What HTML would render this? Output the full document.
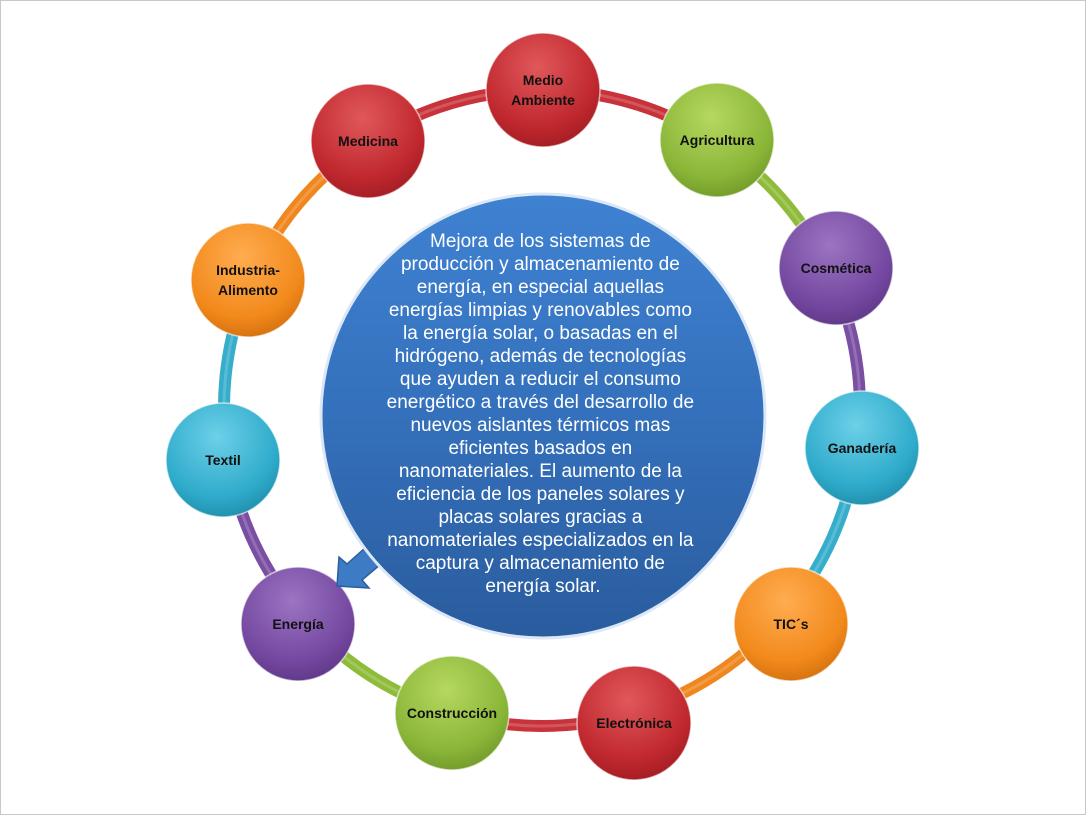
<!DOCTYPE html>
<html><head><meta charset="utf-8"><style>
html,body{margin:0;padding:0;background:#fff}
body{width:1086px;height:815px;overflow:hidden;position:relative}
svg{position:absolute;left:0;top:0}
</style></head><body>
<svg id="s" width="1086" height="815" viewBox="0 0 1086 815" xmlns="http://www.w3.org/2000/svg">
<defs>
<radialGradient id="gred" cx="45%" cy="30%" r="75%"><stop offset="0" stop-color="#e0585a"/><stop offset="0.7" stop-color="#c0282e"/><stop offset="1" stop-color="#9e1c22"/></radialGradient>
<radialGradient id="ggreen" cx="45%" cy="30%" r="75%"><stop offset="0" stop-color="#b6d860"/><stop offset="0.7" stop-color="#8ab638"/><stop offset="1" stop-color="#6e9628"/></radialGradient>
<radialGradient id="gpurple" cx="45%" cy="30%" r="75%"><stop offset="0" stop-color="#9b74c2"/><stop offset="0.7" stop-color="#7448a0"/><stop offset="1" stop-color="#5c3684"/></radialGradient>
<radialGradient id="gcyan" cx="45%" cy="30%" r="75%"><stop offset="0" stop-color="#6cd0e8"/><stop offset="0.7" stop-color="#2fabcb"/><stop offset="1" stop-color="#1f8aa8"/></radialGradient>
<radialGradient id="gorange" cx="45%" cy="30%" r="75%"><stop offset="0" stop-color="#ffac50"/><stop offset="0.7" stop-color="#f28a1c"/><stop offset="1" stop-color="#d06c0c"/></radialGradient>
<linearGradient id="gblue" x1="0" y1="0" x2="0" y2="1"><stop offset="0" stop-color="#3f82d2"/><stop offset="0.5" stop-color="#3470bb"/><stop offset="1" stop-color="#2a5c9e"/></linearGradient>
</defs>
<rect x="0.5" y="0.5" width="1085" height="814" fill="#fff" stroke="#c8c8c8"/>
<g id="ring"></g>
<g id="nodes"></g>
<polygon points="337,586 339,557 347,564 366,547 381,564 362,580 369,588" fill="#3d7cc4" stroke="#2a5f9e" stroke-width="1.5"/>
<circle cx="543" cy="416" r="222" fill="url(#gblue)" stroke="#dce8f6" stroke-width="3"/>
<text font-family="Liberation Sans, sans-serif" font-size="19" fill="#fff" text-anchor="middle">
<tspan x="543" y="247">Mejora de los sistemas de</tspan>
<tspan x="543" y="270">producción y almacenamiento de</tspan>
<tspan x="543" y="293">energía, en especial aquellas</tspan>
<tspan x="543" y="316">energías limpias y renovables como</tspan>
<tspan x="543" y="339">la energía solar, o basadas en el</tspan>
<tspan x="543" y="362">hidrógeno, además de tecnologías</tspan>
<tspan x="543" y="385">que ayuden a reducir el consumo</tspan>
<tspan x="543" y="408">energético a través del desarrollo de</tspan>
<tspan x="543" y="431">nuevos aislantes térmicos mas</tspan>
<tspan x="543" y="454">eficientes basados en</tspan>
<tspan x="543" y="477">nanomateriales. El aumento de la</tspan>
<tspan x="543" y="500">eficiencia de los paneles solares y</tspan>
<tspan x="543" y="523">placas solares gracias a</tspan>
<tspan x="543" y="546">nanomateriales especializados en la</tspan>
<tspan x="543" y="569">captura y almacenamiento de</tspan>
<tspan x="543" y="592">energía solar.</tspan>
</text>
</svg>
<script>
var N=[
[543,90,'red',['Medio','Ambiente'],'#c8323a'],
[717,140,'green',['Agricultura'],'#8fbb3a'],
[836,268,'purple',['Cosmética'],'#7a4fa3'],
[862,448,'cyan',['Ganadería'],'#36aecb'],
[791,624,'orange',['TIC´s'],'#f0861e'],
[634,723,'red',['Electrónica'],'#c8323a'],
[452,713,'green',['Construcción'],'#8fbb3a'],
[298,624,'purple',['Energía'],'#7a4fa3'],
[223,460,'cyan',['Textil'],'#36aecb'],
[248,280,'orange',['Industria-','Alimento'],'#f0861e'],
[368,141,'red',['Medicina'],'#c8323a']];
var cx=542,cy=408,R=318,ns='http://www.w3.org/2000/svg';
var ring=document.getElementById('ring'),nodes=document.getElementById('nodes');
function ang(p){return Math.atan2(p[1]-cy,p[0]-cx);}
for(var i=0;i<N.length;i++){
 var a=N[i],b=N[(i+1)%N.length];
 var a1=ang(a),a2=ang(b);if(a2<a1)a2+=2*Math.PI;
 var x1=cx+R*Math.cos(a1),y1=cy+R*Math.sin(a1),x2=cx+R*Math.cos(a2),y2=cy+R*Math.sin(a2);
 var d='M'+x1+' '+y1+' A'+R+' '+R+' 0 0 1 '+x2+' '+y2;
 var p=document.createElementNS(ns,'path');p.setAttribute('d',d);p.setAttribute('fill','none');p.setAttribute('stroke',a[4]);p.setAttribute('stroke-width','12');ring.appendChild(p);
 var q=document.createElementNS(ns,'path');q.setAttribute('d',d);q.setAttribute('fill','none');q.setAttribute('stroke','rgba(255,255,255,0.18)');q.setAttribute('stroke-width','3');ring.appendChild(q);
}
N.forEach(function(n){
 var c=document.createElementNS(ns,'circle');c.setAttribute('cx',n[0]);c.setAttribute('cy',n[1]);c.setAttribute('r',57);c.setAttribute('fill','url(#g'+n[2]+')');c.setAttribute('stroke','rgba(255,255,255,0.6)');c.setAttribute('stroke-width','1.5');nodes.appendChild(c);
 var t=document.createElementNS(ns,'text');t.setAttribute('font-family','Liberation Sans, sans-serif');t.setAttribute('font-size','14');t.setAttribute('font-weight','bold');t.setAttribute('fill','#111');t.setAttribute('text-anchor','middle');
 var L=n[3];for(var k=0;k<L.length;k++){var s=document.createElementNS(ns,'tspan');s.setAttribute('x',n[0]);s.setAttribute('y',n[1]+5+(k-(L.length-1)/2)*20);s.textContent=L[k];t.appendChild(s);}
 nodes.appendChild(t);
});
</script>
</body></html>
